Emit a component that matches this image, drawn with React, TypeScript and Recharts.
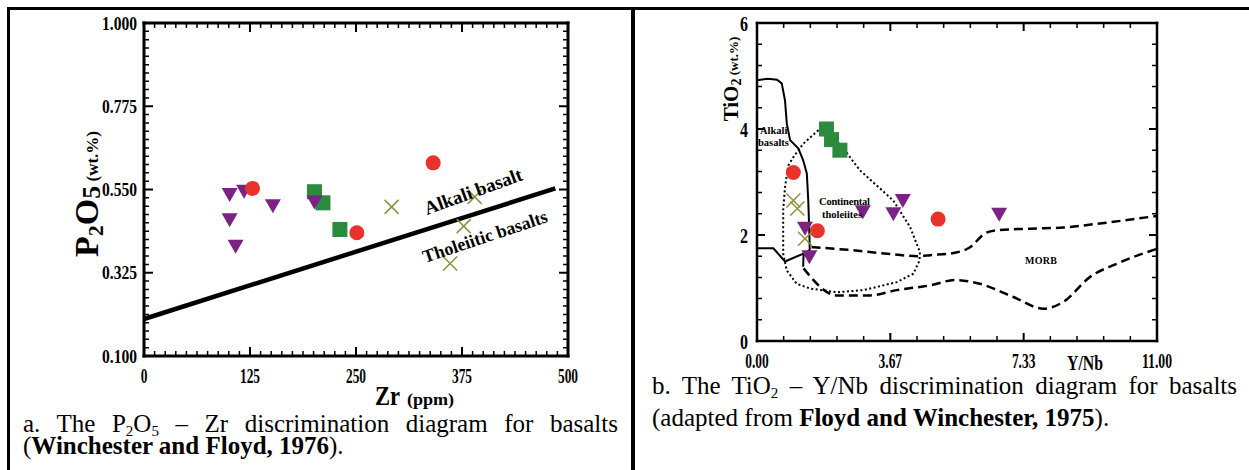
import React from "react";
import { ScatterChart, Scatter, XAxis, YAxis, ReferenceLine } from "recharts";

const serif = '"Liberation Serif", "Times New Roman", serif';

// ---------- panel a: P2O5 vs Zr ----------
const zrMajor = [0, 125, 250, 375, 500];
const zrLabels = ["0", "125", "250", "375", "500"];
const p2o5Major = [0.1, 0.325, 0.55, 0.775, 1.0];
const p2o5Labels = ["0.100", "0.325", "0.550", "0.775", "1.000"];

const zrPurple = [
  { x: 101, y: 0.535 },
  { x: 118, y: 0.544 },
  { x: 152, y: 0.505 },
  { x: 101, y: 0.467 },
  { x: 108, y: 0.395 },
  { x: 201, y: 0.515 },
];
const zrRed = [
  { x: 128, y: 0.553 },
  { x: 251, y: 0.433 },
  { x: 341, y: 0.622 },
];
const zrGreen = [
  { x: 201, y: 0.544 },
  { x: 211, y: 0.514 },
  { x: 231, y: 0.442 },
];
const zrOlive = [
  { x: 292, y: 0.503 },
  { x: 390, y: 0.53 },
  { x: 377, y: 0.451 },
  { x: 361, y: 0.35 },
];
// alkali / tholeiitic divide
const zrDivider = [
  { x: 0, y: 0.2 },
  { x: 485, y: 0.553 },
];

// ---------- panel b: TiO2 vs Y/Nb ----------
const ynbMajor = [0, 11 / 3, 22 / 3, 11];
const ynbLabels = ["0.00", "3.67", "7.33", "11.00"];
const tio2Major = [0, 2, 4, 6];
const tio2Labels = ["0", "2", "4", "6"];

const tiPurple = [
  { x: 1.32, y: 2.12 },
  { x: 1.44, y: 1.58 },
  { x: 2.91, y: 2.43 },
  { x: 3.75, y: 2.39 },
  { x: 4.01, y: 2.64 },
  { x: 6.66, y: 2.38 },
];
const tiRed = [
  { x: 1.0, y: 3.18 },
  { x: 1.66, y: 2.08 },
  { x: 4.98, y: 2.3 },
];
const tiGreen = [
  { x: 1.91, y: 4.0 },
  { x: 2.05, y: 3.8 },
  { x: 2.28, y: 3.6 },
];
const tiOlive = [
  { x: 1.0, y: 2.65 },
  { x: 1.11, y: 2.5 },
  { x: 1.32, y: 1.93 },
];

const alkaliBoundary = [
  { x: 0, y: 4.92 },
  { x: 0.3, y: 4.95 },
  { x: 0.55, y: 4.93 },
  { x: 0.68, y: 4.86 },
  { x: 0.77, y: 4.54 },
  { x: 0.82, y: 4.1 },
  { x: 0.91, y: 3.79 },
  { x: 1.14, y: 3.63 },
  { x: 1.27, y: 3.41 },
  { x: 1.37, y: 3.16 },
  { x: 1.41, y: 2.65 },
  { x: 1.44, y: 2.03 },
  { x: 1.45, y: 1.72 },
  { x: 1.28, y: 1.62 },
  { x: 1.27, y: 1.4 },
];
const alkaliFoot = [
  { x: 0, y: 1.75 },
  { x: 0.45, y: 1.75 },
  { x: 0.77, y: 1.5 },
  { x: 1.45, y: 1.7 },
];
const morbUpper = [
  { x: 1.5, y: 1.77 },
  { x: 2.5, y: 1.72 },
  { x: 3.5, y: 1.65 },
  { x: 4.48, y: 1.6 },
  { x: 4.76, y: 1.62 },
  { x: 5.31, y: 1.65 },
  { x: 5.86, y: 1.77 },
  { x: 6.27, y: 2.03 },
  { x: 6.59, y: 2.09 },
  { x: 7.51, y: 2.12 },
  { x: 8.42, y: 2.14 },
  { x: 9.34, y: 2.21 },
  { x: 11.0, y: 2.36 },
];
const morbLower = [
  { x: 1.28, y: 1.37 },
  { x: 2.2, y: 0.86 },
  { x: 3.11, y: 0.86 },
  { x: 3.84, y: 0.96 },
  { x: 4.76, y: 1.05 },
  { x: 5.45, y: 1.15 },
  { x: 6.13, y: 1.08 },
  { x: 7.05, y: 0.83 },
  { x: 7.88, y: 0.61 },
  { x: 8.43, y: 0.74 },
  { x: 9.16, y: 1.21 },
  { x: 9.9, y: 1.46 },
  { x: 11.0, y: 1.74 },
];
const tholeiiteField = [
  { x: 1.69, y: 3.98 },
  { x: 1.27, y: 3.72 },
  { x: 1.0, y: 3.47 },
  { x: 0.86, y: 3.31 },
  { x: 0.77, y: 2.9 },
  { x: 0.72, y: 2.47 },
  { x: 0.72, y: 2.03 },
  { x: 0.72, y: 1.65 },
  { x: 0.82, y: 1.33 },
  { x: 1.09, y: 1.08 },
  { x: 1.46, y: 0.99 },
  { x: 2.2, y: 0.92 },
  { x: 2.93, y: 0.96 },
  { x: 3.84, y: 1.11 },
  { x: 4.3, y: 1.27 },
  { x: 4.47, y: 1.52 },
  { x: 4.48, y: 1.68 },
  { x: 4.21, y: 2.15 },
  { x: 3.75, y: 2.65 },
  { x: 2.83, y: 3.22 },
  { x: 2.48, y: 3.54 },
  { x: 2.1, y: 3.85 },
  { x: 1.69, y: 3.98 },
];

// minor tick positions
const steps = (lo: number, hi: number, n: number) =>
  Array.from({ length: n + 1 }, (_, i) => lo + ((hi - lo) * i) / n);

const PURPLE = "#7b2382";
const RED = "#e8322b";
const GREEN = "#2b8a3e";
const OLIVE = "#8f8f3f";

const Tri = (p: any) => (
  <path
    d={`M${p.cx - 8},${p.cy - 7} L${p.cx + 8},${p.cy - 7} L${p.cx},${p.cy + 7} Z`}
    fill={PURPLE}
  />
);
const Dot = (p: any) => <circle cx={p.cx} cy={p.cy} r={7.5} fill={RED} />;
const Sq = (p: any) => <rect x={p.cx - 7.5} y={p.cy - 7.5} width={15} height={15} fill={GREEN} />;
const Cross = (p: any) => (
  <path
    d={`M${p.cx - 7},${p.cy - 7} L${p.cx + 7},${p.cy + 7} M${p.cx - 7},${p.cy + 7} L${p.cx + 7},${p.cy - 7}`}
    stroke={OLIVE}
    strokeWidth={1.5}
  />
);
const Nothing = () => <g />;

// label-only tick renderer; (x, y) sits on the frame line
function labelTick(side: "bottom" | "left", majors: number[], labels: string[], font: number, dx: number, dy: number, len: (s: string) => number) {
  return (props: any) => {
    const { x, y, payload } = props;
    const i = majors.findIndex((m) => Math.abs(m - payload.value) < 1e-6);
    if (i < 0) return <g />;
    const s = labels[i];
    return (
      <text
        x={x + dx}
        y={y + dy}
        textAnchor={side === "left" ? "end" : "middle"}
        fontFamily={serif}
        fontWeight="bold"
        fontSize={font}
        fill="#000"
        textLength={len(s)}
        lengthAdjust="spacingAndGlyphs"
      >
        {s}
      </text>
    );
  };
}

const common = { type: "number" as const, interval: 0 as const, tickMargin: 0, tickSize: 0, tickLine: false };

function frameAxes(xDom: [number, number], yDom: [number, number], xMaj: number[], yMaj: number[], frame: object, xTick: any, yTick: any) {
  return [
    <XAxis key="b" dataKey="x" domain={xDom} ticks={xMaj} height={1} axisLine={frame} tick={xTick} {...common} />,
    <XAxis key="t" xAxisId="t" orientation="top" domain={xDom} ticks={xMaj} height={1} axisLine={frame} tick={Nothing} {...common} />,
    <YAxis key="l" dataKey="y" domain={yDom} ticks={yMaj} width={1} axisLine={frame} tick={yTick} {...common} />,
    <YAxis key="r" yAxisId="r" orientation="right" domain={yDom} ticks={yMaj} width={1} axisLine={frame} tick={Nothing} {...common} />,
  ];
}

const frameA = { stroke: "#000", strokeWidth: 3, strokeLinecap: "square" as const };
const frameB = { stroke: "#000", strokeWidth: 2.5, strokeLinecap: "square" as const };

// plot boxes (page pixels) that follow from the chart margins below
const boxA = { left: 144, right: 568, top: 23, bottom: 356 };
const boxB = { left: 757, right: 1157, top: 23, bottom: 341 };

// inward minor/major tick marks on all four sides of a plot box
function FrameTicks(props: {
  box: { left: number; right: number; top: number; bottom: number };
  xDom: [number, number]; yDom: [number, number];
  xs: number[]; xMaj: number[]; ys: number[]; yMaj: number[];
  majLen: number; minLen: number;
}) {
  const { box, xDom, yDom, xs, xMaj, ys, yMaj, majLen, minLen } = props;
  const isMaj = (arr: number[], v: number) => arr.some((m) => Math.abs(m - v) < 1e-6);
  const px = (v: number) => box.left + ((v - xDom[0]) / (xDom[1] - xDom[0])) * (box.right - box.left);
  const py = (v: number) => box.bottom - ((v - yDom[0]) / (yDom[1] - yDom[0])) * (box.bottom - box.top);
  let minor = "";
  let major = "";
  xs.forEach((v) => {
    const M = isMaj(xMaj, v);
    const l = M ? majLen : minLen;
    const x = px(v);
    const seg = `M${x},${box.bottom} v${-l} M${x},${box.top} v${l} `;
    if (M) major += seg;
    else minor += seg;
  });
  ys.forEach((v) => {
    const M = isMaj(yMaj, v);
    const l = M ? majLen : minLen;
    const y = py(v);
    const seg = `M${box.left},${y} h${l} M${box.right},${y} h${-l} `;
    if (M) major += seg;
    else minor += seg;
  });
  return (
    <g>
      <path d={minor} stroke="#000" strokeWidth={1.5} fill="none" />
      <path d={major} stroke="#000" strokeWidth={2} fill="none" />
    </g>
  );
}

function PanelA() {
  const xTick = labelTick("bottom", zrMajor, zrLabels, 22, 0, 27, (s) => s.length * 6.7);
  const yTick = labelTick("left", p2o5Major, p2o5Labels, 19, -7, 6.5, () => 35);
  return (
    <ScatterChart width={632} height={400} margin={{ top: 22, left: 143, right: 63, bottom: 43 }}>
      {frameAxes([0, 500], [0.1, 1.0], zrMajor, p2o5Major, frameA, xTick, yTick)}
      <ReferenceLine segment={[zrDivider[0], zrDivider[1]]} stroke="#000" strokeWidth={4.5} ifOverflow="visible" />
      <Scatter data={zrGreen} shape={Sq} isAnimationActive={false} />
      <Scatter data={zrPurple} shape={Tri} isAnimationActive={false} />
      <Scatter data={zrRed} shape={Dot} isAnimationActive={false} />
      <Scatter data={zrOlive} shape={Cross} isAnimationActive={false} />
    </ScatterChart>
  );
}

function PanelB() {
  const xTick = labelTick("bottom", ynbMajor, ynbLabels, 21, 0, 27, (s) => s.replace(".", "").length * 6.5 + 4);
  const yTick = labelTick("left", tio2Major, tio2Labels, 22, -9, 7.5, () => 8);
  const solid = { stroke: "#000", strokeWidth: 2 };
  const dashed = { stroke: "#000", strokeWidth: 2.5, strokeDasharray: "9 5" };
  const dotted = { stroke: "#000", strokeWidth: 2, strokeDasharray: "2 2.5" };
  return (
    <ScatterChart width={617} height={400} margin={{ top: 22, left: 124, right: 91, bottom: 58 }}>
      {frameAxes([0, 11], [0, 6], ynbMajor, tio2Major, frameB, xTick, yTick)}
      <Scatter data={alkaliBoundary} fill="#000" line={solid} lineJointType="linear" shape={Nothing} isAnimationActive={false} />
      <Scatter data={alkaliFoot} fill="#000" line={solid} lineJointType="linear" shape={Nothing} isAnimationActive={false} />
      <Scatter data={morbUpper} fill="#000" line={dashed} lineJointType="monotoneX" shape={Nothing} isAnimationActive={false} />
      <Scatter data={morbLower} fill="#000" line={dashed} lineJointType="monotoneX" shape={Nothing} isAnimationActive={false} />
      <Scatter data={tholeiiteField} fill="#000" line={dotted} lineJointType="linear" shape={Nothing} isAnimationActive={false} />
      <Scatter data={tiGreen} shape={Sq} isAnimationActive={false} />
      <Scatter data={tiPurple} shape={Tri} isAnimationActive={false} />
      <Scatter data={tiRed} shape={Dot} isAnimationActive={false} />
      <Scatter data={tiOlive} shape={Cross} isAnimationActive={false} />
    </ScatterChart>
  );
}

const sub = (t: string) => (
  <span style={{ fontSize: 15, position: "relative", top: 4 }}>{t}</span>
);

export default function App() {
  const capBase: React.CSSProperties = {
    position: "absolute",
    fontFamily: serif,
    fontSize: 25,
    lineHeight: "21px",
    color: "#000",
    whiteSpace: "nowrap",
  };
  const just: React.CSSProperties = { textAlign: "justify", textAlignLast: "justify", whiteSpace: "normal" };
  const bold = { fontFamily: serif, fontWeight: "bold" as const, fill: "#000" };
  return (
    <div style={{ position: "absolute", left: 0, top: 0, width: 1249, height: 470, background: "#fff", overflow: "hidden" }}>
      <div style={{ position: "absolute", left: 0, top: 0 }}>
        <PanelA />
      </div>
      <div style={{ position: "absolute", left: 632, top: 0 }}>
        <PanelB />
      </div>

      <svg width={1249} height={470} style={{ position: "absolute", left: 0, top: 0, pointerEvents: "none" }}>
        <FrameTicks box={boxA} xDom={[0, 500]} yDom={[0.1, 1.0]} xs={steps(0, 500, 40)} xMaj={zrMajor}
          ys={steps(0.1, 1.0, 40)} yMaj={p2o5Major} majLen={9} minLen={5} />
        <FrameTicks box={boxB} xDom={[0, 11]} yDom={[0, 6]} xs={steps(0, 11, 15)} xMaj={ynbMajor}
          ys={steps(0, 6, 15)} yMaj={tio2Major} majLen={8} minLen={5} />

        {/* panel a titles */}
        <text transform="translate(98,194) rotate(-90)" textAnchor="middle" {...bold}>
          <tspan fontSize={34}>P</tspan>
          <tspan fontSize={22} dy={5}>2</tspan>
          <tspan fontSize={34} dy={-5}>O</tspan>
          <tspan fontSize={26} dy={2}>5</tspan>
          <tspan fontSize={17} dy={-2}> (wt.%)</tspan>
        </text>
        <text x={375} y={405} fontSize={27} textLength={25} lengthAdjust="spacingAndGlyphs" {...bold}>Zr</text>
        <text x={407} y={405} fontSize={17} textLength={47} lengthAdjust="spacingAndGlyphs" {...bold}>(ppm)</text>
        <text transform="translate(427,215) rotate(-20)" fontSize={19} {...bold}>Alkali basalt</text>
        <text transform="translate(425,263) rotate(-18.5)" fontSize={18} {...bold}>Tholeiitic basalts</text>

        {/* panel b titles */}
        <text transform="translate(738,79) rotate(-90)" textAnchor="middle" {...bold}>
          <tspan fontSize={21}>TiO</tspan>
          <tspan fontSize={14} dy={3}>2</tspan>
          <tspan fontSize={13} dy={-3}> (wt.%)</tspan>
        </text>
        <text x={1067} y={370} fontSize={20} textLength={36} lengthAdjust="spacingAndGlyphs" {...bold}>Y/Nb</text>
        <text x={760} y={134} fontSize={10.5} {...bold}>Alkali</text>
        <text x={758} y={146} fontSize={10.5} {...bold}>basalts</text>
        <text x={819} y={205} fontSize={10.5} textLength={51} lengthAdjust="spacing" {...bold}>Continental</text>
        <text x={822} y={218} fontSize={10.5} textLength={40} lengthAdjust="spacing" {...bold}>tholeiites</text>
        <text x={1025} y={264} fontSize={10} textLength={32} lengthAdjust="spacing" {...bold}>MORB</text>
      </svg>

      {/* captions */}
      <div style={{ ...capBase, ...just, left: 23, top: 413, width: 595 }}>
        a. The P{sub("2")}O{sub("5")} – Zr discrimination diagram for basalts
      </div>
      <div style={{ ...capBase, left: 23, top: 435 }}>
        (<b>Winchester and Floyd, 1976</b>).
      </div>
      <div style={{ ...capBase, ...just, left: 652, top: 375, width: 585 }}>
        b. The TiO{sub("2")} – Y/Nb discrimination diagram for basalts
      </div>
      <div style={{ ...capBase, left: 652, top: 407 }}>
        (adapted from <b>Floyd and Winchester, 1975</b>).
      </div>

      {/* frame lines */}
      <div style={{ position: "absolute", left: 7, top: 7, width: 1242, height: 3, background: "#000" }} />
      <div style={{ position: "absolute", left: 7, top: 7, width: 3, height: 463, background: "#000" }} />
      <div style={{ position: "absolute", left: 631, top: 7, width: 4, height: 463, background: "#000" }} />
    </div>
  );
}
